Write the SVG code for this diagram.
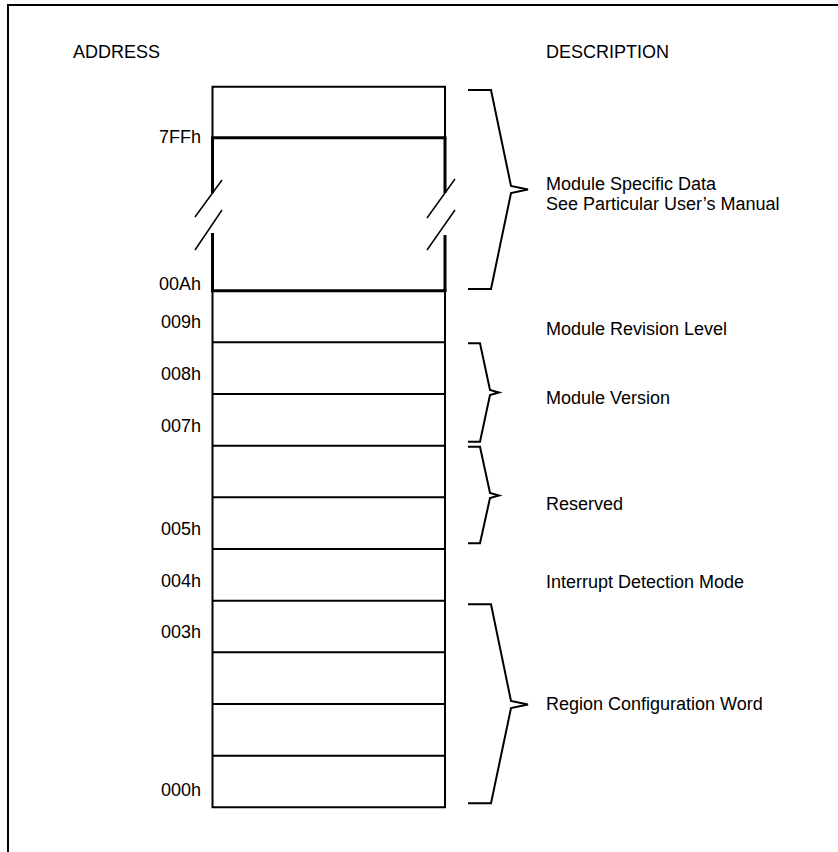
<svg xmlns="http://www.w3.org/2000/svg" width="838" height="852" viewBox="0 0 838 852">
<style>
text{font-family:"Liberation Sans",Arial,sans-serif;font-size:18px;fill:#000}
.addr{text-anchor:end}
.thin{stroke:#000;stroke-width:2;fill:none}
.thick{stroke:#000;stroke-width:3;fill:none}
.slash{stroke:#000;stroke-width:1.5;fill:none}
.brace{stroke:#000;stroke-width:2;fill:none;stroke-linejoin:miter}
</style>
<rect width="838" height="852" fill="#fff"/>
<g id="frame">
<path class="thin" d="M8 852 V5 H838"/>
</g>
<g id="headers">
<text x="73" y="58">ADDRESS</text>
<text x="546" y="58">DESCRIPTION</text>
</g>
<g id="row-top">
<path class="thin" d="M212.5 138 V86.7 H445 V138"/>
</g>
<g id="row-module-specific">
<path class="thick" d="M211 137.7 H446.5"/>
<path class="thick" d="M212.5 137.7 V193 M212.5 233 V290.7"/>
<path class="thick" d="M445 137.7 V193 M445 235 V290.7"/>
<path class="slash" d="M195 217 L222 180 M195 250 L222 210"/>
<path class="slash" d="M427 218 L455 179 M427 250 L455 210"/>
<path class="thick" d="M211 290.7 H446.5"/>
<text class="addr" x="201" y="143">7FFh</text>
<text class="addr" x="201" y="289.5">00Ah</text>
</g>
<g id="rows">
<path class="thin" d="M212.5 290.7 V807.3 H445 V290.7"/>
<path class="thin" d="M212.5 342.3 H445 M212.5 394 H445 M212.5 445.7 H445 M212.5 497.3 H445 M212.5 549 H445 M212.5 600.7 H445 M212.5 652.3 H445 M212.5 704 H445 M212.5 755.7 H445"/>
</g>
<g id="addr-labels">
<text class="addr" x="201" y="327.5">009h</text>
<text class="addr" x="201" y="379.5">008h</text>
<text class="addr" x="201" y="431.5">007h</text>
<text class="addr" x="201" y="534.5">005h</text>
<text class="addr" x="201" y="586.5">004h</text>
<text class="addr" x="201" y="637.5">003h</text>
<text class="addr" x="201" y="795.5">000h</text>
</g>
<g id="connectors">
<path class="brace" d="M468 90 H491 L511 186 L528 189.5 L511 193 L491 289 H468"/>
<path class="brace" d="M468 343.3 H480 L490 390 L499 392.5 L490 395 L480 441.7 H468"/>
<path class="brace" d="M468 446.7 H480 L490 493 L499 495.5 L490 498 L480 543.3 H468"/>
<path class="brace" d="M468 604.3 H491 L511 701 L528 704.5 L511 708 L491 803.3 H468"/>
</g>
<g id="desc-module-specific"><text x="546" y="189.5">Module Specific Data</text><text x="546" y="209.5">See Particular User’s Manual</text></g>
<g id="desc-revision"><text x="546" y="334.5">Module Revision Level</text></g>
<g id="desc-version"><text x="546" y="403.5">Module Version</text></g>
<g id="desc-reserved"><text x="546" y="509.5">Reserved</text></g>
<g id="desc-interrupt"><text x="546" y="587.5">Interrupt Detection Mode</text></g>
<g id="desc-region"><text x="546" y="709.5">Region Configuration Word</text></g>
</svg>
